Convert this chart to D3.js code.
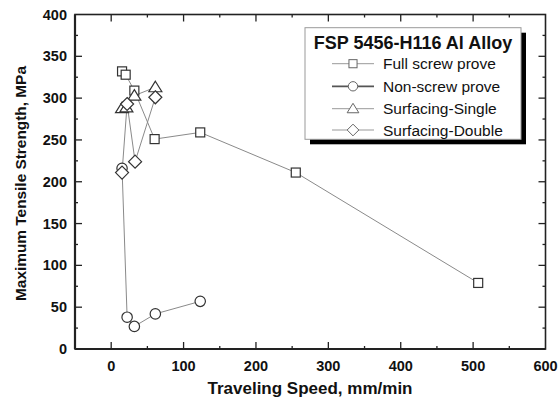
<!DOCTYPE html>
<html>
<head>
<meta charset="utf-8">
<script src="https://cdn.jsdelivr.net/npm/d3@7"></script>
<style>
  body { margin: 0; background: #fff; }
  text { font-family: "Liberation Sans", Arial, sans-serif; }
</style>
</head>
<body>
<div id="chart"></div>
<script>
var fullScrewSpeed = [15, 20, 32, 60, 123, 255, 507]
var fullScrewStrength = [332, 328, 309, 251, 259, 211, 79]

var nonScrewSpeed = [15, 22, 32, 61, 123]
var nonScrewStrength = [216, 38, 27, 42, 57]

var singleSpeed = [15, 21, 32, 61]
var singleStrength = [288, 289, 303, 313]

var doubleSpeed = [15, 22, 33, 61]
var doubleStrength = [211, 293, 224, 301]

var seriesNames = ["Full screw prove", "Non-screw prove", "Surfacing-Single", "Surfacing-Double"]
var xTicks = [0, 100, 200, 300, 400, 500, 600]
var yTicks = [0, 50, 100, 150, 200, 250, 300, 350, 400]

var width = 560,
  height = 403

var margin = { top: 14.5, right: 14.5, bottom: 54, left: 75 }

var svg = d3.select("#chart")
  .append("svg")
  .attr("width", width)
  .attr("height", height)

var x = d3.scaleLinear().domain([-50, 600]).range([margin.left, width - margin.right])
var y = d3.scaleLinear().domain([0, 400]).range([height - margin.bottom, margin.top])

function zip(xs, ys) {
  return xs.map(function (v, i) { return { x: v, y: ys[i] } })
}

var series = [
  { name: seriesNames[0], shape: "square", data: zip(fullScrewSpeed, fullScrewStrength) },
  { name: seriesNames[1], shape: "circle", data: zip(nonScrewSpeed, nonScrewStrength) },
  { name: seriesNames[2], shape: "triangle", data: zip(singleSpeed, singleStrength) },
  { name: seriesNames[3], shape: "diamond", data: zip(doubleSpeed, doubleStrength) }
]

var x0 = x.range()[0], x1 = x.range()[1], y0 = y.range()[0], y1 = y.range()[1]

// inside ticks, major + minor
var minorX = d3.range(-50, 601, 50)
var minorY = d3.range(0, 401, 25)

var tickG = svg.append("g").attr("stroke", "#222").attr("stroke-width", 1.3)
minorX.forEach(function (v) {
  var len = xTicks.indexOf(v) >= 0 ? 7 : 3
  if (v === -50 || v === 600) return
  tickG.append("line").attr("x1", x(v)).attr("x2", x(v)).attr("y1", y0).attr("y2", y0 - len)
  tickG.append("line").attr("x1", x(v)).attr("x2", x(v)).attr("y1", y1).attr("y2", y1 + len)
})
minorY.forEach(function (v) {
  var len = yTicks.indexOf(v) >= 0 ? 7 : 3
  if (v === 0 || v === 400) return
  tickG.append("line").attr("x1", x0).attr("x2", x0 + len).attr("y1", y(v)).attr("y2", y(v))
  tickG.append("line").attr("x1", x1).attr("x2", x1 - len).attr("y1", y(v)).attr("y2", y(v))
})

svg.append("rect")
  .attr("x", x0).attr("y", y1)
  .attr("width", x1 - x0).attr("height", y0 - y1)
  .attr("fill", "none").attr("stroke", "#222").attr("stroke-width", 1.6)
svg.append("line").attr("x1", x0).attr("x2", x0).attr("y1", y1).attr("y2", y0)
  .attr("stroke", "#222").attr("stroke-width", 2.2)
svg.append("line").attr("x1", x0).attr("x2", x1).attr("y1", y0).attr("y2", y0)
  .attr("stroke", "#222").attr("stroke-width", 2.2)

// tick labels
svg.append("g").selectAll("text")
  .data(xTicks)
  .enter()
  .append("text")
  .attr("x", function (d) { return x(d) })
  .attr("y", y0 + 22)
  .attr("text-anchor", "middle")
  .attr("font-size", 14.5)
  .attr("font-weight", "bold")
  .attr("fill", "#111")
  .text(function (d) { return d })

svg.append("g").selectAll("text")
  .data(yTicks)
  .enter()
  .append("text")
  .attr("x", x0 - 8)
  .attr("y", function (d) { return y(d) + 5 })
  .attr("text-anchor", "end")
  .attr("font-size", 14.5)
  .attr("font-weight", "bold")
  .attr("fill", "#111")
  .text(function (d) { return d })

svg.append("text")
  .attr("x", 310)
  .attr("y", 394)
  .attr("text-anchor", "middle")
  .attr("font-size", 17)
  .attr("font-weight", "bold")
  .attr("fill", "#111")
  .text("Traveling Speed, mm/min")

svg.append("text")
  .attr("transform", "translate(26,183.5) rotate(-90)")
  .attr("text-anchor", "middle")
  .attr("font-size", 15.4)
  .attr("font-weight", "bold")
  .attr("fill", "#111")
  .text("Maximum Tensile Strength, MPa")

// series
var line = d3.line().x(function (d) { return x(d.x) }).y(function (d) { return y(d.y) })

series.forEach(function (s) {
  svg.append("path")
    .datum(s.data)
    .attr("d", line)
    .attr("fill", "none")
    .attr("stroke", "#8a8a8a")
    .attr("stroke-width", 1)
})

function drawMarker(g, shape, cx, cy, k) {
  k = k || 1
  if (shape === "square") {
    g.append("rect").attr("x", cx - 4.5 * k).attr("y", cy - 4.5 * k).attr("width", 9 * k).attr("height", 9 * k)
  } else if (shape === "circle") {
    g.append("circle").attr("cx", cx).attr("cy", cy).attr("r", 5.2 * k)
  } else if (shape === "triangle") {
    g.append("path").attr("d", "M" + cx + "," + (cy - 6 * k) + "L" + (cx + 6.5 * k) + "," + (cy + 4.5 * k) + "L" + (cx - 6.5 * k) + "," + (cy + 4.5 * k) + "Z")
  } else {
    g.append("path").attr("d", "M" + cx + "," + (cy - 6.5 * k) + "L" + (cx + 6.5 * k) + "," + cy + "L" + cx + "," + (cy + 6.5 * k) + "L" + (cx - 6.5 * k) + "," + cy + "Z")
  }
}

series.forEach(function (s) {
  var g = svg.append("g").attr("fill", "#fff").attr("stroke", "#333").attr("stroke-width", 1.2)
  s.data.forEach(function (d) {
    drawMarker(g, s.shape, x(d.x), y(d.y))
  })
})

// legend
var lx = 305, ly = 27.7, lw = 216, lh = 111.6
svg.append("rect").attr("x", lx + 5).attr("y", ly + 5).attr("width", lw).attr("height", lh).attr("fill", "#000")
svg.append("rect").attr("x", lx).attr("y", ly).attr("width", lw).attr("height", lh)
  .attr("fill", "#fff").attr("stroke", "#999").attr("stroke-width", 1)

svg.append("text")
  .attr("x", lx + lw / 2)
  .attr("y", 48.5)
  .attr("text-anchor", "middle")
  .attr("font-size", 18)
  .attr("font-weight", "bold")
  .attr("fill", "#111")
  .text("FSP 5456-H116 Al Alloy")

var rowY = [63.7, 86.3, 108.7, 130]
series.forEach(function (s, i) {
  var g = svg.append("g")
  g.append("line").attr("x1", 332).attr("x2", 374).attr("y1", rowY[i]).attr("y2", rowY[i])
    .attr("stroke", i === 1 ? "#555" : "#999").attr("stroke-width", i === 1 ? 1.8 : 1)
  var mg = g.append("g").attr("fill", "#fff").attr("stroke", "#666").attr("stroke-width", 1)
  drawMarker(mg, s.shape, 353, rowY[i], 0.9)
  g.append("text")
    .attr("x", 383)
    .attr("y", rowY[i] + 5.5)
    .attr("font-size", 15.5)
    .attr("fill", "#111")
    .text(s.name)
})
</script>
</body>
</html>
